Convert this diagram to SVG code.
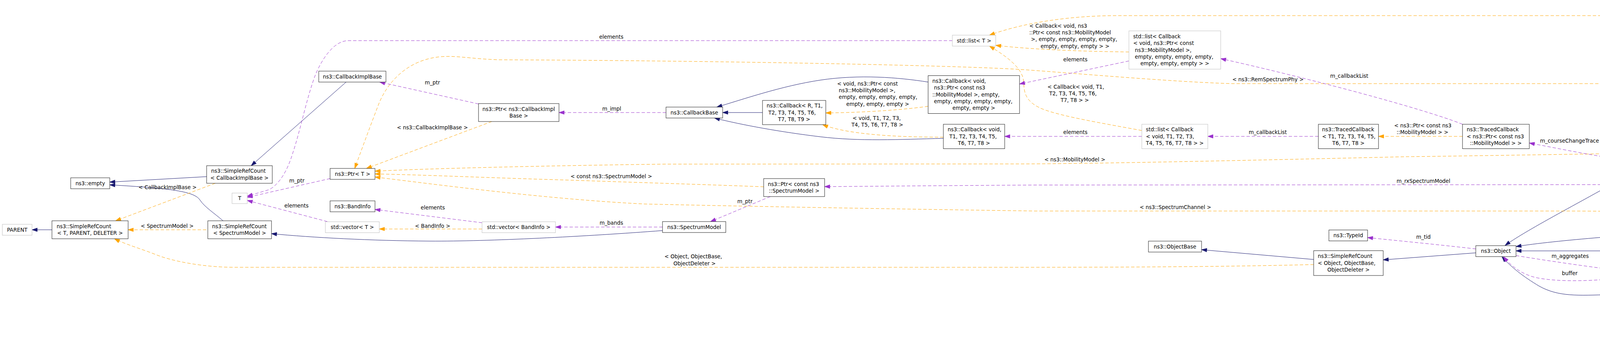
<svg xmlns="http://www.w3.org/2000/svg" width="6515" height="911" viewBox="0 0 6515 911">
<style>
text{font-family:"DejaVu Sans","Liberation Sans",sans-serif;font-size:13.35px;fill:#000}
.m{text-anchor:middle}
.n rect{fill:#fff;stroke:#1a1a1a;stroke-width:1}
.g rect{fill:#fff;stroke:#bfbfbf;stroke-width:1}
.h rect{fill:#bfbfbf;stroke:#1a1a1a;stroke-width:1}
.b{fill:none;stroke:#191970;stroke-width:1;marker-end:url(#ab)}
.o{fill:none;stroke:#ffa500;stroke-width:1;stroke-dasharray:8.5,5;marker-end:url(#ao)}
.p{fill:none;stroke:#9a32cd;stroke-width:1;stroke-dasharray:8.5,5;marker-end:url(#ap)}
</style>
<defs>
<marker id="ab" viewBox="0 0 13.3 8.9" refX="13.3" refY="4.45" markerWidth="13.3" markerHeight="8.9" markerUnits="userSpaceOnUse" orient="auto" overflow="visible"><path d="M0,0L13.3,4.45L0,8.9z" fill="#191970" stroke="#191970" stroke-width="1"/></marker>
<marker id="ao" viewBox="0 0 13.3 8.9" refX="13.3" refY="4.45" markerWidth="13.3" markerHeight="8.9" markerUnits="userSpaceOnUse" orient="auto" overflow="visible"><path d="M0,0L13.3,4.45L0,8.9z" fill="#ffa500" stroke="#ffa500" stroke-width="1"/></marker>
<marker id="ap" viewBox="0 0 13.3 8.9" refX="13.3" refY="4.45" markerWidth="13.3" markerHeight="8.9" markerUnits="userSpaceOnUse" orient="auto" overflow="visible"><path d="M0,0L13.3,4.45L0,8.9z" fill="#9a32cd" stroke="#9a32cd" stroke-width="1"/></marker>
</defs>
<rect width="6515" height="911" fill="#fff"/>
<g id="connectors">
<path class="b" d="M133,588 L82,588"/>
<path class="b" d="M529,452 L281,466"/>
<path class="b" d="M571,565 C548,545 524,530 512,512 C498,490 440,482 281,473"/>
<path class="b" d="M886,210 L643,424"/>
<path class="b" d="M1952,288 L1850,288"/>
<path class="b" d="M2376,210 C2300,198 2200,190 2100,205 C2000,220 1900,255 1835,274"/>
<path class="b" d="M2415,354 C2300,357 2200,362 2100,350 C2000,338 1900,320 1829,302"/>
<path class="b" d="M3363,664 L3076,639"/>
<path class="b" d="M3778,647 L3541,665"/>
<path class="b" d="M4188,435 C4100,490 3920,580 3853,628"/>
<path class="b" d="M4365,590 C4200,598 3980,615 3881,631"/>
<path class="b" d="M4161,642 L3881,642"/>
<path class="b" d="M4594,642 L4271,642"/>
<path class="b" d="M5007,446 C4900,480 4700,525 4512,572"/>
<path class="b" d="M6302,753 L4120,754 C4040,756 3990,760 3940,732 C3900,708 3870,685 3845,657"/>
<path class="b" d="M4965,882.5 L4736,882.5"/>
<path class="b" d="M5309,882.5 L5139,882.5"/>
<path class="b" d="M5599,882.5 L5461,882.5"/>
<path class="b" d="M5975,811.6 L5749,812"/>
<path class="b" d="M5963,872.6 L5755.5,879"/>
<path class="b" d="M1696,590 C1500,605 1250,618 1100,617 C950,616 800,608 695,598"/>

<g><path class="o" d="M551,469 L296,565"/><text class="m" x="429" y="484">&lt; CallbackImplBase &gt;</text></g>
<g><path class="o" d="M528,588 L328,588"/><text class="m" x="428" y="582.5">&lt; SpectrumModel &gt;</text></g>
<g><path class="o" d="M3363,677 C3200,681 3000,684 2600,684 L600,684 C520,684 440,668 400,652 C360,636 320,625 293,611"/><text x="1701" y="661">&lt; Object, ObjectBase,</text><text class="m" x="1778" y="678.5">ObjectDeleter &gt;</text></g>
<g><path class="o" d="M1259,311 L938,431"/><text class="m" x="1107" y="330.5">&lt; ns3::CallbackImplBase &gt;</text></g>
<g><path class="o" d="M5275,290 C5150,272 4780,214 4680,214 L3155,214 C3000,210 2700,183 2600,177 C2400,166 1800,155 1276,153 C1200,150 1170,142 1130,145 C1040,152 990,215 970,265 C945,330 925,385 908,431"/><text class="m" x="3246" y="208">&lt; ns3::RemSpectrumPhy &gt;</text></g>
<g><path class="o" d="M4566,386 C4200,392 3700,400 3600,401 C3300,408 2800,419.5 2600,419.5 L1700,420 C1400,424 1100,431 960,438"/><text class="m" x="2751.5" y="412.5">&lt; ns3::MobilityModel &gt;</text></g>
<g><path class="o" d="M1955,478 C1800,472 1600,466 1460,461 C1250,455 1100,448 960,445"/><text class="m" x="1565" y="456">&lt; const ns3::SpectrumModel &gt;</text></g>
<g><path class="o" d="M4972,628 C4800,600 4550,563 4400,550 C4250,541 4100,540 3984,540 L2650,540 C2300,535 1900,528 1650,522 C1400,510 1100,470 960,453"/><text class="m" x="3009" y="534.5">&lt; ns3::SpectrumChannel &gt;</text></g>
<g><path class="o" d="M2376,272 C2320,280 2220,288 2114,289"/><text x="2143" y="218.5">&lt; void, ns3::Ptr&lt; const</text><text x="2147.3" y="235.9">ns3::MobilityModel &gt;,</text><text x="2147.3" y="253.3">empty, empty, empty, empty,</text><text class="m" x="2247" y="270.7">empty, empty, empty &gt;</text></g>
<g><path class="o" d="M2415,351 C2330,351 2180,348 2106,319"/><text x="2182.6" y="306.5">&lt; void, T1, T2, T3,</text><text class="m" x="2246" y="323.9">T4, T5, T6, T7, T8 &gt;</text></g>
<g><path class="o" d="M2890,133 C2800,132 2650,128 2549,116"/><text x="2635" y="70.5">&lt; Callback&lt; void, ns3</text><text x="2635" y="87.9">::Ptr&lt; const ns3::MobilityModel</text><text x="2639.3" y="105.3">&gt;, empty, empty, empty, empty,</text><text class="m" x="2752" y="122.7">empty, empty, empty &gt; &gt;</text></g>
<g><path class="o" d="M2923,334 C2820,315 2700,295 2660,275 C2620,255 2622,230 2620,205 C2615,170 2570,140 2533,118"/><text x="2681.6" y="226.5">&lt; Callback&lt; void, T1,</text><text x="2686" y="243.9">T2, T3, T4, T5, T6,</text><text class="m" x="2751.5" y="261.3">T7, T8 &gt; &gt;</text></g>
<g><path class="o" d="M3744,349 L3529,349"/><text x="3569" y="325.5">&lt; ns3::Ptr&lt; const ns3</text><text class="m" x="3641.5" y="342.9">::MobilityModel &gt; &gt;</text></g>
<g><path class="o" d="M6003,254 C5970,200 5880,90 5800,70 C5760,55 5730,40 5700,40 L2860,40 C2740,40 2620,58 2533,90"/><text x="4341" y="16.1">&lt; ns3::RadioEnvironmentMap</text><text class="m" x="4438" y="33.5">Helper::RemPoint &gt;</text></g>
<g><path class="o" d="M1234,586 L971,586"/><text class="m" x="1107.5" y="582.5">&lt; BandInfo &gt;</text></g>

<g><path class="p" d="M2438,104 L892,104 C855,104 825,150 808,190 C785,250 770,330 750,390 C735,440 715,470 690,485 L633,502"/><text class="m" x="1565" y="98.5">elements</text></g>
<g><path class="p" d="M845,457 L633,505"/><text class="m" x="760" y="467">m_ptr</text></g>
<g><path class="p" d="M838,567 L633,513"/><text class="m" x="759" y="530.5">elements</text></g>
<g><path class="p" d="M1705,288 L1431,288"/><text class="m" x="1566" y="283">m_impl</text></g>
<g><path class="p" d="M1225,266 L972,210"/><text class="m" x="1107" y="215.5">m_ptr</text></g>
<g><path class="p" d="M1234,570 L960,536"/><text class="m" x="1108" y="536">elements</text></g>
<g><path class="p" d="M1696,581 L1422,581"/><text class="m" x="1565" y="575">m_bands</text></g>
<g><path class="p" d="M1972,503 L1819,567"/><text class="m" x="1907" y="519.5">m_ptr</text></g>
<g><path class="p" d="M2890,156 L2610,215"/><text class="m" x="2753" y="156.5">elements</text></g>
<g><path class="p" d="M2923,349 L2572,349"/><text class="m" x="2753" y="343">elements</text></g>
<g><path class="p" d="M3375,349 L3092,349"/><text class="m" x="3245.5" y="343">m_callbackList</text></g>
<g><path class="p" d="M3744,318 C3650,280 3350,200 3125,150"/><text class="m" x="3454" y="198.5">m_callbackList</text></g>
<g><path class="p" d="M4142.5,407 C4060,395 3990,380 3915,366"/><text class="m" x="4018" y="364.5">m_courseChangeTrace</text></g>
<g><path class="p" d="M4962,439 C4700,452 4300,470 4124,472.5 L2650,473.5 C2400,475 2200,477 2111,477.6"/><text class="m" x="3644" y="467.5">m_rxSpectrumModel</text></g>
<g><path class="p" d="M3778,637 C3700,628 3600,618 3501,608"/><text class="m" x="3644" y="610.5">m_tid</text></g>
<g><path class="p" d="M3881,654 C3960,667 4050,680 4120,689"/><text class="m" x="4019.5" y="660">m_aggregates</text></g>
<g><path class="p" d="M4143,712 C4050,722 3960,720 3920,707 C3890,697 3868,680 3849,657"/><text class="m" x="4018.5" y="703.5">buffer</text></g>
<g><path class="p" d="M4583,401 C4500,408 4400,414 4289,419"/><text class="m" x="4439.5" y="399.5">m_ptr</text></g>
<g><path class="p" d="M4962,420 L4797,401"/><text class="m" x="4861" y="398.5">m_mobility</text></g>
<g><path class="p" d="M5323,330 L5096,417"/><text class="m" x="5229" y="354.5">m_ptr</text></g>
<g><path class="p" d="M5573,269 C5480,268 5400,264 5330,268 C5200,275 5000,330 4739,372"/><text class="m" x="5229.5" y="271.5">bmm</text></g>
<g><path class="p" d="M5573,289 L5496,295"/><text class="m" x="5535.6" y="287">phy</text></g>
<g><path class="p" d="M5899,276.6 L5781,276.6"/><text class="m" x="5841" y="271.2">elements</text></g>
<g><path class="p" d="M6386,731 L6041,300"/><text class="m" x="6224" y="467.5">m_rem</text></g>
<g><path class="p" d="M4923,642 L4768.5,642"/><text class="m" x="4861" y="636.5">m_ptr</text></g>
<g><path class="p" d="M6339,731 C6250,700 6150,668 6050,668 L5300,668 C5260,667 5220,663 5172,657"/><text class="m" x="5679" y="662.2">m_channel</text></g>
<g><path class="p" d="M6356,776 C6320,795 6260,813 6180,817 C6130,819 6100,818 6067,816"/><text class="m" x="6223" y="783">m_channelPath</text><text class="m" x="6223" y="800.4">m_outputFile</text></g>
<g><path class="p" d="M6379,776 C6350,805 6310,835 6270,848 C6200,866 6130,870 6079,871.5"/><text class="m" x="6224" y="835.5">m_outFile</text></g>
</g>

<g id="n_parent" class="g"><rect x="6" y="574" width="76" height="28"/><text class="m" x="44" y="592.5">PARENT</text></g>
<g id="n_src_tpd" class="n"><rect x="133" y="565" width="195" height="46"/><text x="145" y="583.8">ns3::SimpleRefCount</text><text class="m" x="230.5" y="601.2">&lt; T, PARENT, DELETER &gt;</text></g>
<g id="n_empty" class="n"><rect x="181" y="455" width="100" height="28"/><text class="m" x="231" y="473.5">ns3::empty</text></g>
<g id="n_src_cib" class="n"><rect x="529" y="424" width="168" height="45"/><text x="540.5" y="442.3">ns3::SimpleRefCount</text><text class="m" x="613" y="459.7">&lt; CallbackImplBase &gt;</text></g>
<g id="n_src_sm" class="n"><rect x="532" y="565" width="163" height="46"/><text x="543" y="583.8">ns3::SimpleRefCount</text><text class="m" x="613.5" y="601.2">&lt; SpectrumModel &gt;</text></g>
<g id="n_t" class="g"><rect x="594" y="494" width="39" height="27"/><text class="m" x="613.5" y="512">T</text></g>
<g id="n_cib" class="n"><rect x="816" y="182" width="172" height="28"/><text class="m" x="902" y="200.5">ns3::CallbackImplBase</text></g>
<g id="n_ptr_t" class="n"><rect x="845" y="431" width="115" height="28"/><text class="m" x="902.5" y="449.5">ns3::Ptr&lt; T &gt;</text></g>
<g id="n_bandinfo" class="n"><rect x="845" y="514" width="115" height="28"/><text class="m" x="902.5" y="532.5">ns3::BandInfo</text></g>
<g id="n_vector_t" class="g"><rect x="833" y="567.5" width="138" height="28"/><text class="m" x="902" y="586">std::vector&lt; T &gt;</text></g>
<g id="n_ptr_cib" class="n"><rect x="1225" y="265" width="206" height="46"/><text x="1235" y="283.8">ns3::Ptr&lt; ns3::CallbackImpl</text><text class="m" x="1328" y="301.2">Base &gt;</text></g>
<g id="n_vector_bandinfo" class="g"><rect x="1234" y="567.5" width="188" height="28"/><text class="m" x="1328" y="586">std::vector&lt; BandInfo &gt;</text></g>
<g id="n_callbackbase" class="n"><rect x="1705" y="274" width="145" height="28"/><text class="m" x="1777.5" y="292.5">ns3::CallbackBase</text></g>
<g id="n_spectrummodel" class="n"><rect x="1696" y="567" width="162" height="28"/><text class="m" x="1777" y="585.5">ns3::SpectrumModel</text></g>
<g id="n_callback_r" class="n"><rect x="1952" y="257" width="162" height="62"/><text x="1962.5" y="275.1">ns3::Callback&lt; R, T1,</text><text x="1967" y="292.5">T2, T3, T4, T5, T6,</text><text class="m" x="2033" y="309.9">T7, T8, T9 &gt;</text></g>
<g id="n_ptr_csm" class="n"><rect x="1955" y="457" width="156" height="46"/><text x="1965.7" y="475.8">ns3::Ptr&lt; const ns3</text><text class="m" x="2033" y="493.2">::SpectrumModel &gt;</text></g>
<g id="n_callback_void_ptr" class="n"><rect x="2376" y="193.5" width="234" height="97"/><text x="2386.7" y="211.7">ns3::Callback&lt; void,</text><text x="2391" y="229.1">ns3::Ptr&lt; const ns3</text><text x="2386.7" y="246.5">::MobilityModel &gt;, empty,</text><text x="2391" y="263.9">empty, empty, empty, empty,</text><text class="m" x="2493" y="281.3">empty, empty &gt;</text></g>
<g id="n_callback_void_t" class="n"><rect x="2415" y="318" width="157" height="62.5"/><text x="2426" y="336.3">ns3::Callback&lt; void,</text><text x="2430.3" y="353.7">T1, T2, T3, T4, T5,</text><text class="m" x="2493.5" y="371.1">T6, T7, T8 &gt;</text></g>
<g id="n_list_t" class="g"><rect x="2438" y="90" width="111" height="28"/><text class="m" x="2493.5" y="108.5">std::list&lt; T &gt;</text></g>
<g id="n_list_cb_ptr" class="g"><rect x="2890" y="79" width="235" height="98"/><text x="2901" y="97.7">std::list&lt; Callback</text><text x="2901" y="115.1">&lt; void, ns3::Ptr&lt; const</text><text x="2905.3" y="132.5">ns3::MobilityModel &gt;,</text><text x="2905.3" y="149.9">empty, empty, empty, empty,</text><text class="m" x="3007.5" y="167.3">empty, empty, empty &gt; &gt;</text></g>
<g id="n_list_cb_t" class="g"><rect x="2923" y="318" width="169" height="62.5"/><text x="2933.6" y="336.3">std::list&lt; Callback</text><text x="2933.6" y="353.7">&lt; void, T1, T2, T3,</text><text class="m" x="3007.5" y="371.1">T4, T5, T6, T7, T8 &gt; &gt;</text></g>
<g id="n_objectbase" class="n"><rect x="2940" y="617" width="136" height="28"/><text class="m" x="3008" y="635.5">ns3::ObjectBase</text></g>
<g id="n_traced_t" class="n"><rect x="3375" y="318" width="154" height="62.5"/><text x="3384.5" y="336.3">ns3::TracedCallback</text><text x="3384.5" y="353.7">&lt; T1, T2, T3, T4, T5,</text><text class="m" x="3452" y="371.1">T6, T7, T8 &gt;</text></g>
<g id="n_typeid" class="n"><rect x="3402" y="588.5" width="99" height="28"/><text class="m" x="3451.5" y="607">ns3::TypeId</text></g>
<g id="n_src_object" class="n"><rect x="3363" y="641.5" width="178" height="63.5"/><text x="3373.6" y="660.3">ns3::SimpleRefCount</text><text x="3373.6" y="677.7">&lt; Object, ObjectBase,</text><text class="m" x="3452" y="695.1">ObjectDeleter &gt;</text></g>
<g id="n_traced_ptr" class="n"><rect x="3744" y="318" width="171" height="62.5"/><text x="3754.7" y="336.3">ns3::TracedCallback</text><text x="3754.7" y="353.7">&lt; ns3::Ptr&lt; const ns3</text><text class="m" x="3829.5" y="371.1">::MobilityModel &gt; &gt;</text></g>
<g id="n_object" class="n"><rect x="3778" y="628.7" width="103" height="28"/><text class="m" x="3829.5" y="647.2">ns3::Object</text></g>
<g id="n_mobilitymodel" class="n"><rect x="4142.5" y="406.7" width="146" height="28"/><text class="m" x="4215.5" y="425.2">ns3::MobilityModel</text></g>
<g id="n_aggregates" class="n"><rect x="4120" y="684.4" width="191.5" height="28"/><text class="m" x="4215.75" y="702.9">ns3::Object::Aggregates</text></g>
<g id="n_channel" class="n"><rect x="4161" y="628.6" width="110" height="28"/><text class="m" x="4216" y="647.1">ns3::Channel</text></g>
<g id="n_spectrumphy" class="n"><rect x="4365" y="572" width="147" height="28"/><text class="m" x="4438.5" y="590.5">ns3::SpectrumPhy</text></g>
<g id="n_ptr_mm" class="n"><rect x="4566" y="372" width="231" height="29"/><text class="m" x="4681.5" y="391">ns3::Ptr&lt; ns3::MobilityModel &gt;</text></g>
<g id="n_spectrumchannel" class="n"><rect x="4594" y="628.6" width="174.5" height="28"/><text class="m" x="4681" y="647.1">ns3::SpectrumChannel</text></g>
<g id="n_ios_base" class="g"><rect x="4626" y="868.6" width="110" height="27.5"/><text class="m" x="4681" y="886.9">std::ios_base</text></g>
<g id="n_ptr_sc" class="n"><rect x="4923" y="628.6" width="258" height="28"/><text class="m" x="5052" y="647.1">ns3::Ptr&lt; ns3::SpectrumChannel &gt;</text></g>
<g id="n_remspectrumphy" class="n"><rect x="4962" y="417" width="179" height="29"/><text class="m" x="5051.5" y="436">ns3::RemSpectrumPhy</text></g>
<g id="n_basic_ios" class="g"><rect x="4965" y="868.6" width="174" height="27.5"/><text class="m" x="5052" y="886.9">std::basic_ios&lt; Char &gt;</text></g>
<g id="n_ptr_rsp" class="n"><rect x="5275" y="284.7" width="221" height="45.5"/><text x="5284.5" y="303.3">ns3::Ptr&lt; ns3::RemSpectrum</text><text class="m" x="5385.5" y="320.7">Phy &gt;</text></g>
<g id="n_basic_ostream" class="g"><rect x="5309" y="860" width="152" height="45"/><text x="5320" y="878.3">std::basic_ostream</text><text class="m" x="5385" y="895.7">&lt; Char &gt;</text></g>
<g id="n_rempoint" class="n"><rect x="5573.6" y="254" width="207" height="46"/><text x="5584.5" y="272.8">ns3::RadioEnvironmentMap</text><text class="m" x="5677" y="290.2">Helper::RemPoint</text></g>
<g id="n_basic_ofstream" class="g"><rect x="5599" y="860" width="156.5" height="45"/><text x="5609" y="878.3">std::basic_ofstream</text><text class="m" x="5677" y="895.7">&lt; char &gt;</text></g>
<g id="n_basic_string" class="g"><rect x="5605.5" y="790" width="143.5" height="45.5"/><text x="5616" y="808.5">std::basic_string&lt;</text><text class="m" x="5677" y="825.9">char &gt;</text></g>
<g id="n_list_rempoint" class="g"><rect x="5899" y="254" width="244" height="46"/><text x="5909" y="272.8">std::list&lt; ns3::RadioEnvironment</text><text class="m" x="6021" y="290.2">MapHelper::RemPoint &gt;</text></g>
<g id="n_ofstream" class="g"><rect x="5963" y="857" width="116" height="27"/><text class="m" x="6021" y="875">std::ofstream</text></g>
<g id="n_string" class="g"><rect x="5975" y="797.7" width="91.5" height="27.3"/><text class="m" x="6020.75" y="815.8">std::string</text></g>
<g id="n_helper" class="h"><rect x="6302" y="731" width="206" height="45"/><text x="6312" y="749.3">ns3::RadioEnvironmentMap</text><text class="m" x="6405" y="766.7">Helper</text></g>
</svg>
